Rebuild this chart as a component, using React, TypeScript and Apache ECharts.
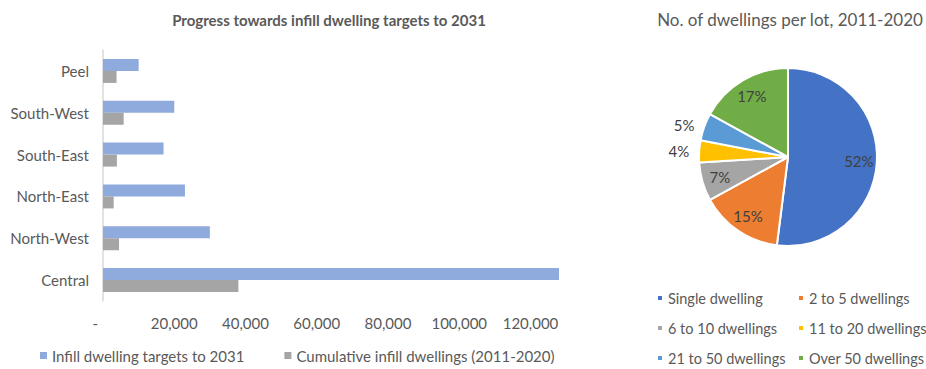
import React, { useEffect, useRef } from "react";
import * as echarts from "echarts";

const categories = ["Peel", "South-West", "South-East", "North-East", "North-West", "Central"];
const targets2031 = [10000, 20000, 17000, 23000, 30000, 128000];
const cumulative2011to2020 = [3800, 5800, 3900, 3000, 4500, 38000];
const barSeriesNames = ["Infill dwelling targets to 2031", "Cumulative infill dwellings (2011-2020)"];
const xTicks = [0, 20000, 40000, 60000, 80000, 100000, 120000];

const lotNames = [
  "Single dwelling",
  "2 to 5 dwellings",
  "6 to 10 dwellings",
  "11 to 20 dwellings",
  "21 to 50 dwellings",
  "Over 50 dwellings",
];
const lotShares = [52, 15, 7, 4, 5, 17];
const lotColors = ["#4472C4", "#ED7D31", "#A5A5A5", "#FFC000", "#5B9BD5", "#70AD47"];
const outsideLabelIdx = [3, 4];

const FONT = "Lato, 'Liberation Sans', sans-serif";
const TXT = "#595959";

export default function App() {
  const ref = useRef<HTMLDivElement>(null);
  useEffect(() => {
    if (!ref.current) return;
    const chart = echarts.init(ref.current, undefined, { renderer: "svg" });
    const pieCenter = [788, 157];
    const pieLegendText = { fontSize: 14.5, color: TXT, lineHeight: 16, fontFamily: FONT };
    chart.setOption({
      animation: false,
      textStyle: { fontFamily: FONT },
      title: [
        {
          text: "Progress towards infill dwelling targets to 2031",
          left: 324,
          textAlign: "center",
          top: 7,
          textStyle: { fontSize: 15, fontWeight: "bold", color: TXT, fontFamily: FONT },
        },
        {
          text: "No. of dwellings per lot, 2011-2020",
          left: 785,
          textAlign: "center",
          top: 6,
          textStyle: { fontSize: 17, fontWeight: "normal", color: TXT, fontFamily: FONT },
        },
      ],
      legend: [
        {
          data: barSeriesNames,
          left: 40,
          top: 348,
          padding: 0,
          icon: "rect",
          itemWidth: 7,
          itemHeight: 7,
          itemGap: 40,
          textStyle: { fontSize: 15, color: TXT, fontFamily: FONT },
        },
        {
          data: [lotNames[0], lotNames[2], lotNames[4]],
          orient: "vertical",
          left: 656,
          top: 290,
          padding: 0,
          icon: "rect",
          itemWidth: 6,
          itemHeight: 6,
          itemGap: 14,
          textStyle: pieLegendText,
        },
        {
          data: [lotNames[1], lotNames[3], lotNames[5]],
          orient: "vertical",
          left: 797,
          top: 290,
          padding: 0,
          icon: "rect",
          itemWidth: 6,
          itemHeight: 6,
          itemGap: 14,
          textStyle: pieLegendText,
        },
      ],
      grid: { left: 103, top: 50, width: 456, height: 251 },
      xAxis: {
        type: "value",
        min: 0,
        max: 128000,
        interval: 20000,
        splitLine: { show: false },
        axisLine: { show: false },
        axisTick: { show: false },
        axisLabel: {
          showMaxLabel: false,
          margin: 14,
          fontSize: 15,
          color: TXT,
          fontFamily: FONT,
          formatter: (v: number) =>
            xTicks.indexOf(v) < 0 ? "" : v === 0 ? "-    " : v.toLocaleString("en-US"),
        },
      },
      yAxis: {
        type: "category",
        data: categories,
        inverse: true,
        axisLine: { show: true, lineStyle: { color: "#D9D9D9", width: 1.5 } },
        axisTick: { show: false },
        axisLabel: { fontSize: 15, color: TXT, margin: 14, fontFamily: FONT },
      },
      series: [
        {
          type: "bar",
          name: barSeriesNames[0],
          data: targets2031,
          barWidth: 12,
          barGap: "0%",
          itemStyle: { color: "#8FAADC" },
        },
        {
          type: "bar",
          name: barSeriesNames[1],
          data: cumulative2011to2020,
          barWidth: 12,
          barGap: "0%",
          itemStyle: { color: "#A5A5A5" },
        },
        {
          type: "pie",
          center: pieCenter,
          radius: [0, 89],
          startAngle: 90,
          clockwise: true,
          avoidLabelOverlap: false,
          itemStyle: { borderColor: "#FFFFFF", borderWidth: 2 },
          data: lotNames.map((n, i) => ({
            name: n,
            value: lotShares[i],
            itemStyle: { color: lotColors[i] },
            label: { show: outsideLabelIdx.indexOf(i) >= 0 },
          })),
          label: {
            position: "outside",
            formatter: "{c}%",
            fontSize: 15,
            color: "#404040",
            fontFamily: FONT,
          },
          labelLine: { show: false, length: 5, length2: 0 },
        },
        {
          type: "pie",
          center: pieCenter,
          radius: [0, 136],
          startAngle: 90,
          clockwise: true,
          silent: true,
          legendHoverLink: false,
          avoidLabelOverlap: false,
          z: 5,
          itemStyle: { color: "rgba(0,0,0,0)", borderWidth: 0 },
          data: lotNames.map((n, i) => ({
            name: n,
            value: lotShares[i],
            itemStyle: { color: "rgba(0,0,0,0)" },
            label: { show: outsideLabelIdx.indexOf(i) < 0 },
          })),
          label: {
            position: "inside",
            formatter: "{c}%",
            fontSize: 15,
            color: "#404040",
            fontFamily: FONT,
          },
          labelLine: { show: false },
        },
      ],
    });
    return () => chart.dispose();
  }, []);
  return (
    <div
      ref={ref}
      style={{ position: "absolute", left: 0, top: 0, width: 926, height: 369, background: "#fff" }}
    />
  );
}
